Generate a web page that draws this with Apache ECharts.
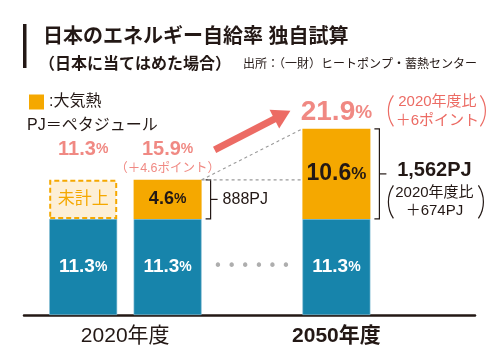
<!DOCTYPE html>
<html>
<head>
<meta charset="utf-8">
<script src="https://cdn.jsdelivr.net/npm/echarts@6/dist/echarts.min.js"></script>
<style>html,body{margin:0;padding:0;background:#fff}#c{width:501px;height:359px}</style>
</head>
<body>
<div id="c"></div>
<script>
// ---- data ----
const categories = ['2020年度（現行計上）', '2020年度（大気熱を含む）', '', '2050年度', ''];
const renewableRate = [11.3, 11.3, null, 11.3, null];      // blue
const uncountedAirHeat = [4.6, null, null, null, null];      // dashed box (未計上)
const airHeatRate = [null, 4.6, null, 10.6, null];           // orange (大気熱)
const selfSufficiency = ['11.3', '15.9', null, '21.9', null];
const rateNote = [null, '（＋4.6ポイント）', null, ['2020年度比', '＋6ポイント'], null];
const airHeatPJ = [null, '888PJ', null, '1,562PJ', null];
const pjNote = [null, null, null, ['2020年度比', '＋674PJ'], null];
const axisLabelText = ['2020年度', '', '', '2050年度', ''];
const gapMarker = [null, null, '……', null, null];

// ---- style constants ----
const FONT = '"Liberation Sans", "Noto Sans CJK JP", sans-serif';
const DARK = '#231815';
const RED = '#ec6b64';
const BLUE = '#1784ab';
const ORANGE = '#f5a800';
const BAR_W = 68;

const stackTop = categories.map((c, i) =>
  [renewableRate[i], uncountedAirHeat[i], airHeatRate[i]].reduce((s, v) => s + (v == null ? 0 : v), 0));
const toSeries = arr => arr.map(v => (v == null ? '-' : v));

const chart = echarts.init(document.getElementById('c'), null, { renderer: 'canvas' });

function arcParen(cx, cy, h, left, color) {
  const w = 5;
  const half = h / 2;
  const t = Math.atan(w / half) * 2;
  const r = half / Math.sin(t);
  return {
    type: 'arc',
    shape: left
      ? { cx: cx + r, cy: cy, r: r, startAngle: Math.PI - t, endAngle: Math.PI + t, clockwise: true }
      : { cx: cx - r, cy: cy, r: r, startAngle: -t, endAngle: t, clockwise: true },
    style: { stroke: color, lineWidth: 1.2, fill: null }
  };
}

const option = {
  animation: false,
  textStyle: { fontFamily: FONT },
  title: [
    { text: '日本のエネルギー自給率 独自試算', left: 38, top: 22,
      textStyle: { fontSize: 20, fontWeight: 'bold', color: DARK, fontFamily: FONT } },
    { text: '（日本に当てはめた場合）', left: 34, top: 52,
      textStyle: { fontSize: 16, fontWeight: 'bold', color: DARK, fontFamily: FONT } },
    { text: '出所：（一財）ヒートポンプ・蓄熱センター', left: 238, top: 54,
      textStyle: { fontSize: 12, fontWeight: 'normal', color: DARK, fontFamily: FONT } },
    { text: 'PJ＝ペタジュール', left: 22, top: 113,
      textStyle: { fontSize: 16, fontWeight: 'normal', color: DARK, fontFamily: FONT } }
  ],
  graphic: [
    { type: 'rect', left: 23, top: 24, shape: { width: 3.5, height: 44 }, style: { fill: DARK } }
  ],
  legend: {
    data: ['大気熱'], left: 24, top: 89, icon: 'rect', itemWidth: 15, itemHeight: 15,
    formatter: n => ':' + n,
    textStyle: { fontSize: 16, color: DARK, fontFamily: FONT }
  },
  grid: [
    { left: 41, right: 38, top: 60, bottom: 44 },
    { left: 24, right: 26, top: 60, bottom: 44 }
  ],
  xAxis: [
    {
      type: 'category', data: categories, gridIndex: 0,
      axisLine: { show: false }, axisTick: { show: false },
      axisLabel: {
        interval: 0, margin: 11,
        formatter: (v, i) => {
          const t = axisLabelText[i];
          if (!t) return '';
          return i === 0 ? '{a|' + t + '}' : '{b|' + t + '}';
        },
        rich: {
          a: { fontSize: 21, color: DARK, fontFamily: FONT, padding: [0, 0, 0, 84] },
          b: { fontSize: 21, color: DARK, fontWeight: 'bold', fontFamily: FONT }
        }
      }
    },
    {
      type: 'value', gridIndex: 1, min: 0, max: 1,
      axisLine: { show: true, onZero: false, lineStyle: { color: DARK, width: 2.5 } },
      axisTick: { show: false }, axisLabel: { show: false }, splitLine: { show: false }
    }
  ],
  yAxis: [
    { type: 'value', gridIndex: 0, min: 0, max: 30, show: false },
    { type: 'value', gridIndex: 1, min: 0, max: 1, show: false }
  ],
  series: [
    {
      name: '再エネ等', type: 'bar', stack: 'rate', barWidth: BAR_W,
      data: toSeries(renewableRate),
      itemStyle: { color: BLUE, borderColor: '#8fc3d6', borderWidth: 0.6 },
      label: {
        show: true, position: 'inside',
        formatter: p => '{n|' + p.value + '}{p|%}',
        rich: {
          n: { fontSize: 19, fontWeight: 'bold', color: '#fff', fontFamily: FONT },
          p: { fontSize: 14, fontWeight: 'bold', color: '#fff', fontFamily: FONT }
        }
      }
    },
    {
      name: '大気熱（未計上）', type: 'bar', stack: 'rate', barWidth: BAR_W,
      data: toSeries(uncountedAirHeat),
      itemStyle: { color: '#fdefd6', borderColor: ORANGE, borderWidth: 2, borderType: [5, 3] },
      label: {
        show: true, position: 'inside', formatter: '未計上',
        fontSize: 17, color: ORANGE, fontFamily: FONT
      }
    },
    {
      name: '大気熱', type: 'bar', stack: 'rate', barWidth: BAR_W,
      data: airHeatRate.map((v, i) => v == null ? '-' : {
        value: v,
        label: {
          rich: {
            n: { fontSize: v > 8 ? 23 : 18, fontWeight: 'bold', color: DARK, fontFamily: FONT },
            p: { fontSize: v > 8 ? 17 : 14, fontWeight: 'bold', color: DARK, fontFamily: FONT }
          }
        }
      }),
      itemStyle: { color: ORANGE },
      label: { show: true, position: 'inside', formatter: p => '{n|' + p.value + '}{p|%}' }
    },
    {
      name: '自給率', type: 'scatter', symbolSize: 1, itemStyle: { color: 'rgba(0,0,0,0)' },
      data: categories.map((c, i) => selfSufficiency[i] == null ? '-' : stackTop[i]),
      label: {
        show: true, position: 'top', distance: 2,
        formatter: p => {
          const i = p.dataIndex;
          if (i === 3) return '{bb|' + selfSufficiency[i] + '}{pb|%}';
          const note = typeof rateNote[i] === 'string' ? rateNote[i] : ' ';
          return '{b|' + selfSufficiency[i] + '}{p|%}\n{s|' + note + '}';
        },
        rich: {
          b: { fontSize: 20, fontWeight: 'bold', color: RED, fontFamily: FONT, lineHeight: 22 },
          p: { fontSize: 14, fontWeight: 'bold', color: RED, fontFamily: FONT, lineHeight: 22 },
          s: { fontSize: 12.5, color: RED, fontFamily: FONT, lineHeight: 17 },
          bb: { fontSize: 28, fontWeight: 'bold', color: RED, fontFamily: FONT, lineHeight: 28 },
          pb: { fontSize: 19, fontWeight: 'bold', color: RED, fontFamily: FONT, lineHeight: 28 }
        }
      }
    },
    {
      name: 'gap', type: 'scatter', symbolSize: 1, itemStyle: { color: 'rgba(0,0,0,0)' },
      data: categories.map((c, i) => gapMarker[i] == null ? '-' : renewableRate[1] / 2),
      label: {
        show: true, position: 'inside', formatter: '• • • • • •',
        fontSize: 15, color: '#9a9a9a', fontFamily: '"DejaVu Sans", sans-serif'
      }
    },
    {
      // brackets, PJ labels and notes for bars containing air heat
      name: 'annotations', type: 'custom',
      data: categories.map((c, i) => airHeatPJ[i] == null ? null : [i, renewableRate[i], stackTop[i]]).filter(Boolean),
      renderItem: (params, api) => {
        const i = api.value(0);
        const lo = api.coord([i, api.value(1)]);
        const hi = api.coord([i, api.value(2)]);
        const xb = lo[0] + BAR_W / 2 + 9;
        const mid = (lo[1] + hi[1]) / 2;
        const big = pjNote[i] != null;
        const ch = [
          { type: 'polyline', shape: { points: [[xb - 5, hi[1]], [xb, hi[1]], [xb, lo[1]], [xb - 5, lo[1]]] },
            style: { stroke: DARK, lineWidth: 1.2, fill: null } },
          { type: 'line', shape: { x1: xb, y1: mid, x2: xb + 7, y2: mid },
            style: { stroke: DARK, lineWidth: 1.2 } }
        ];
        if (!big) {
          ch.push({ type: 'text', x: xb + 12, y: mid,
            style: { text: airHeatPJ[i], fontSize: 16, fill: DARK, fontFamily: FONT, verticalAlign: 'middle', align: 'left' } });
        } else {
          const cx = xb + 55;
          ch.push({ type: 'text', x: cx, y: mid - 3,
            style: { text: airHeatPJ[i], fontSize: 20, fontWeight: 'bold', fill: DARK, fontFamily: FONT, verticalAlign: 'middle', align: 'center' } });
          const note = pjNote[i];
          ch.push({ type: 'text', x: cx, y: mid + 19,
            style: { text: note[0], fontSize: 15, fill: DARK, fontFamily: FONT, verticalAlign: 'middle', align: 'center' } });
          ch.push({ type: 'text', x: cx, y: mid + 37,
            style: { text: note[1], fontSize: 15, fill: DARK, fontFamily: FONT, verticalAlign: 'middle', align: 'center' } });
          ch.push(arcParen(xb + 9, mid + 28, 33, true, DARK));
          ch.push(arcParen(xb + 104, mid + 28, 33, false, DARK));
          // red note beside the 2050 rate
          const rn = rateNote[i];
          const ry = hi[1] - 18;
          ch.push({ type: 'text', x: cx + 3, y: ry - 9,
            style: { text: rn[0], fontSize: 15, fill: RED, fontFamily: FONT, verticalAlign: 'middle', align: 'center' } });
          ch.push({ type: 'text', x: cx + 3, y: ry + 10,
            style: { text: rn[1], fontSize: 15, fill: RED, fontFamily: FONT, verticalAlign: 'middle', align: 'center' } });
          ch.push(arcParen(xb + 9, ry, 31, true, RED));
          ch.push(arcParen(xb + 106, ry, 31, false, RED));
        }
        return { type: 'group', children: ch };
      }
    },
    {
      // dashed guide lines and arrow between 2020 (with air heat) and 2050
      name: 'connectors', type: 'custom',
      data: [[1, stackTop[1], 3, stackTop[3]]],
      renderItem: (params, api) => {
        const a = api.coord([api.value(0), api.value(1)]);
        const b = api.coord([api.value(2), api.value(1)]);
        const c = api.coord([api.value(2), api.value(3)]);
        const x1 = a[0] + BAR_W / 2, x2 = b[0] - BAR_W / 2;
        const dash = { stroke: '#9a9a9a', lineWidth: 1.1, lineDash: [3, 3] };
        // arrow from the 2020 rate label towards the 2050 rate label
        const S = [a[0] + 47, a[1] - 30];
        const T = [c[0] - 46, c[1] - 18];
        const dx = T[0] - S[0], dy = T[1] - S[1];
        const L = Math.sqrt(dx * dx + dy * dy);
        const ux = dx / L, uy = dy / L, nx = -uy, ny = ux;
        const hl = 18, hw = 10.5;
        const B = [T[0] - ux * hl, T[1] - uy * hl];
        return {
          type: 'group', children: [
            { type: 'line', shape: { x1: x1, y1: a[1], x2: x2, y2: b[1] }, style: dash },
            { type: 'line', shape: { x1: x1, y1: a[1], x2: x2, y2: c[1] }, style: dash },
            { type: 'line', shape: { x1: S[0], y1: S[1], x2: B[0] + ux * 2, y2: B[1] + uy * 2 },
              style: { stroke: RED, lineWidth: 7 } },
            { type: 'polygon', shape: { points: [T, [B[0] + nx * hw, B[1] + ny * hw], [B[0] - nx * hw, B[1] - ny * hw]] },
              style: { fill: RED } }
          ]
        };
      }
    }
  ]
};
chart.setOption(option);
</script>
</body>
</html>
